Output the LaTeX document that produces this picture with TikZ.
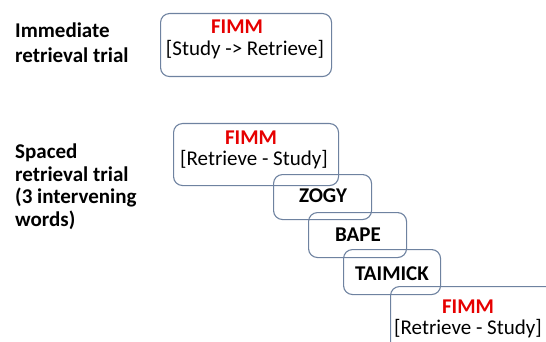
\documentclass[tikz,border=0pt]{standalone}
\usepackage{fontspec}
\setmainfont{Carlito}
\definecolor{boxline}{RGB}{110,130,160}
\definecolor{fimmred}{RGB}{230,0,0}
\begin{document}
\begin{tikzpicture}[x=1pt,y=-1pt,
  trialbox/.style={draw=boxline, line width=1.1pt, rounded corners=9pt, anchor=north west, inner sep=0pt},
  lbl/.style={font=\fontsize{21}{25}\selectfont\bfseries, align=left, anchor=base west, inner sep=0pt},
  word/.style={font=\fontsize{21}{25}\selectfont\bfseries, inner sep=0pt},
  fimm/.style={word, text=fimmred},
  phase/.style={font=\fontsize{21}{25}\selectfont, inner sep=0pt}]
\useasboundingbox (0,0) rectangle (546,342);
\clip (0,0) rectangle (546,342);

% left labels (base anchor = baseline of last line)
\node[lbl] (immlbl) at (15,63) {Immediate\\retrieval trial};
\node[lbl, font=\fontsize{21}{22.5}\selectfont\bfseries] (spclbl) at (15,226) {Spaced\\retrieval trial\\(3 intervening\\words)};

% boxes
\node[trialbox, minimum width=171pt, minimum height=63pt] (b1) at (160,13) {};
\node[trialbox, minimum width=165pt, minimum height=62pt] (b2) at (173,123) {};
\node[trialbox, minimum width=98pt, minimum height=45pt] (b3) at (273,174) {};
\node[trialbox, minimum width=98pt, minimum height=45pt] (b4) at (308,212) {};
\node[trialbox, minimum width=97pt, minimum height=45pt] (b5) at (343,249) {};
\node[trialbox, minimum width=170pt, minimum height=70pt] (b6) at (390,286) {};

% texts
\node[fimm] (t1a) at (237,27) {FIMM};
\node[phase] (t1b) at (245,50) {[Study -> Retrieve]};
\node[fimm] (t2a) at (251,137.5) {FIMM};
\node[phase] (t2b) at (254,160) {[Retrieve - Study]};
\node[word] (t3) at (323,196) {ZOGY};
\node[word] (t4) at (358,235) {BAPE};
\node[word] (t5) at (392,273.5) {TAIMICK};
\node[fimm] (t6a) at (468,306.5) {FIMM};
\node[phase] (t6b) at (468,328.5) {[Retrieve - Study]};
\end{tikzpicture}
\end{document}
